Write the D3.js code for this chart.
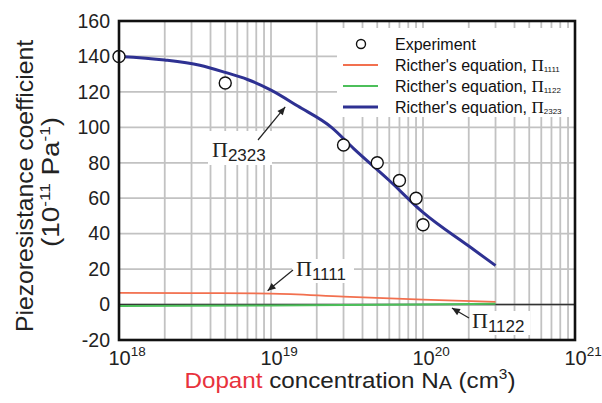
<!DOCTYPE html>
<html>
<head>
<meta charset="utf-8">
<script src="https://cdn.jsdelivr.net/npm/d3@7"></script>
<style>
body{margin:0;background:#fff;}
svg{display:block;font-family:Arial,"Liberation Sans",sans-serif;}
</style>
</head>
<body>
<svg id="chart" width="602" height="403"></svg>
<script>
// ---- data ----
const expN   = [1e18, 5e18, 3e19, 5e19, 7e19, 9e19, 1e20];
const expPi  = [140, 125, 90, 80, 70, 60, 45];

const pi2323N = [1e18, 2e18, 3.4e18, 5e18, 7e18, 1e19, 1.5e19, 2.5e19, 3.5e19, 6e19, 1e20, 2e20, 3e20];
const pi2323V = [140, 138, 135, 131, 127, 121, 112, 100, 88, 70, 52, 33, 22];

const pi1111N = [1e18, 3e18, 1e19, 3e19, 1e20, 3e20];
const pi1111V = [6.6, 6.5, 6.2, 4.5, 2.8, 1.5];

const pi1122N = [1e18, 1e19, 1e20, 3e20];
const pi1122V = [-0.8, -0.5, 0.1, 0.5];

const yTicks = [-20, 0, 20, 40, 60, 80, 100, 120, 140, 160];
const xDecades = [18, 19, 20, 21];
const legendLabels = ["Experiment", "Ricther's equation, ", "Ricther's equation, ", "Ricther's equation, "];
const legendSubs = ["", "1111", "1122", "2323"];

// ---- layout ----
const svg = d3.select("#chart");
const L = 119, R = 575, T = 21, B = 340;
const x = d3.scaleLog().domain([1e18, 1e21]).range([L, R]);
const y = d3.scaleLinear().domain([-20, 160]).range([B, T]);

const grid = svg.append("g");
const vLines = [];
for (let n = 18; n <= 20; n++) for (let k = 1; k <= 9; k++) vLines.push(k * Math.pow(10, n));
grid.selectAll("line.v").data(vLines.filter(v => v > 1e18)).join("line")
  .attr("x1", d => x(d)).attr("x2", d => x(d)).attr("y1", T).attr("y2", B)
  .attr("stroke", "#c2c2c2").attr("stroke-width", 1.8);
grid.selectAll("line.h").data(yTicks.filter(v => v > -20 && v < 160)).join("line")
  .attr("x1", L).attr("x2", R).attr("y1", d => y(d)).attr("y2", d => y(d))
  .attr("stroke", "#c2c2c2").attr("stroke-width", 1.8);

// white boxes (legend, labels)
svg.append("rect").attr("x", 337).attr("y", 28).attr("width", R - 337 - 1).attr("height", 89).attr("fill", "#fff");
svg.append("rect").attr("x", 208).attr("y", 131).attr("width", 64).attr("height", 34).attr("fill", "#fff");
svg.append("rect").attr("x", 292).attr("y", 259).attr("width", 62).attr("height", 24).attr("fill", "#fff");
svg.append("rect").attr("x", 470).attr("y", 311).attr("width", 60).attr("height", 24).attr("fill", "#fff");

// zero line
svg.append("line").attr("x1", L).attr("x2", R).attr("y1", y(0)).attr("y2", y(0))
  .attr("stroke", "#333").attr("stroke-width", 1.6);

// curves
const line = d3.line().x(d => x(d[0])).y(d => y(d[1])).curve(d3.curveMonotoneX);
svg.append("path").attr("d", line(d3.zip(pi1111N, pi1111V)))
  .attr("fill", "none").attr("stroke", "#f2704f").attr("stroke-width", 1.8);
svg.append("path").attr("d", line(d3.zip(pi1122N, pi1122V)))
  .attr("fill", "none").attr("stroke", "#4cbf5a").attr("stroke-width", 2);
svg.append("path").attr("d", line(d3.zip(pi2323N, pi2323V)))
  .attr("fill", "none").attr("stroke", "#2e3192").attr("stroke-width", 3);

// experiment points
svg.selectAll("circle.exp").data(d3.zip(expN, expPi)).join("circle")
  .attr("cx", d => x(d[0])).attr("cy", d => y(d[1])).attr("r", 6)
  .attr("fill", "#fff").attr("stroke", "#111").attr("stroke-width", 1.4);

// frame
svg.append("rect").attr("x", L).attr("y", T).attr("width", R - L).attr("height", B - T)
  .attr("fill", "none").attr("stroke", "#111").attr("stroke-width", 2.6);

// y axis labels
const yAxis = d3.axisLeft(y).tickValues(yTicks).tickSize(0).tickPadding(9).tickFormat(d => String(d));
const gy = svg.append("g").attr("transform", `translate(${L},0)`).call(yAxis);
gy.select(".domain").remove();
gy.selectAll("text").attr("font-size", 19.5).attr("fill", "#222")
  .attr("font-family", "Arial, 'Liberation Sans', sans-serif");

// x axis labels
const xAxis = d3.axisBottom(x).tickValues(xDecades.map(e => Math.pow(10, e))).tickSize(0).tickFormat(() => "");
const gx = svg.append("g").attr("transform", `translate(0,${B})`).call(xAxis);
gx.select(".domain").remove();
gx.selectAll(".tick").each(function(d) {
  const t = d3.select(this).append("text").attr("x", -11).attr("y", 25).attr("text-anchor", "start")
    .attr("fill", "#222").attr("font-size", 20);
  t.append("tspan").text("10");
  t.append("tspan").attr("dy", -9).attr("font-size", 13.5).text(Math.round(Math.log10(d)));
});

// axis titles
svg.append("text").attr("transform", "translate(33,186) rotate(-90)")
  .attr("text-anchor", "middle").attr("font-size", 24).attr("fill", "#222")
  .attr("textLength", 292).attr("lengthAdjust", "spacingAndGlyphs")
  .text("Piezoresistance coefficient");
const yt2 = svg.append("text").attr("transform", "translate(59,182) rotate(-90)")
  .attr("text-anchor", "middle").attr("font-size", 23).attr("fill", "#222")
  .attr("textLength", 130).attr("lengthAdjust", "spacingAndGlyphs");
yt2.append("tspan").text("(10");
yt2.append("tspan").attr("dy", -9).attr("font-size", 14).text("-11");
yt2.append("tspan").attr("dy", 9).text(" Pa");
yt2.append("tspan").attr("dy", -9).attr("font-size", 14).text("-1");
yt2.append("tspan").attr("dy", 9).text(")");

const xt = svg.append("text").attr("x", 350).attr("y", 388).attr("text-anchor", "middle")
  .attr("font-size", 22).attr("fill", "#222")
  .attr("textLength", 331).attr("lengthAdjust", "spacingAndGlyphs");
xt.append("tspan").attr("fill", "#e8323c").text("Dopant");
xt.append("tspan").text(" concentration N");
xt.append("tspan").attr("font-size", 18).attr("dy", 1).text("A");
xt.append("tspan").attr("dy", -1).text(" (cm");
xt.append("tspan").attr("dy", -9).attr("font-size", 14).text("3");
xt.append("tspan").attr("dy", 9).text(")");

// legend
const legendMarks = [
  {type: "circle"},
  {type: "line", color: "#f2704f", w: 1.8},
  {type: "line", color: "#4cbf5a", w: 2},
  {type: "line", color: "#2e3192", w: 3}
];
const lg = svg.append("g");
legendMarks.forEach((d, i) => {
  const cy = 44 + i * 21;
  if (d.type === "circle") {
    lg.append("circle").attr("cx", 361).attr("cy", cy).attr("r", 4.5).attr("fill", "#fff")
      .attr("stroke", "#111").attr("stroke-width", 1.4);
  } else {
    lg.append("line").attr("x1", 343).attr("x2", 378).attr("y1", cy).attr("y2", cy)
      .attr("stroke", d.color).attr("stroke-width", d.w);
  }
  const t = lg.append("text").attr("x", 395).attr("y", cy + 5.5).attr("font-size", 16)
    .attr("fill", "#111");
  t.append("tspan").text(legendLabels[i]);
  if (legendSubs[i]) {
    t.append("tspan").attr("font-family", "'Liberation Serif', 'DejaVu Serif', serif").attr("font-size", 17).text("Π");
    t.append("tspan").attr("font-size", 8).attr("dy", 1).text(legendSubs[i]);
  }
});

// annotations
function arrow(x1, y1, x2, y2) {
  svg.append("line").attr("x1", x1).attr("y1", y1).attr("x2", x2).attr("y2", y2)
    .attr("stroke", "#222").attr("stroke-width", 1.2);
  const a = Math.atan2(y2 - y1, x2 - x1), s = 8, w = 3.5;
  const bx = x2 - s * Math.cos(a), by = y2 - s * Math.sin(a);
  const px = -Math.sin(a) * w, py = Math.cos(a) * w;
  svg.append("path").attr("d", `M${x2},${y2}L${bx + px},${by + py}L${bx - px},${by - py}Z`).attr("fill", "#222");
}
function piLabel(xp, yp, sub) {
  const t = svg.append("text").attr("x", xp).attr("y", yp).attr("fill", "#222");
  t.append("tspan").attr("font-family", "'Liberation Serif', 'DejaVu Serif', serif").attr("font-size", 22).text("Π");
  t.append("tspan").attr("font-size", 17).attr("dy", 4).text(sub);
}
arrow(258, 140, x(1.24e19), y(111.5));
piLabel(212, 157, "2323");
arrow(293, 270, x(9.5e18), y(7.8));
piLabel(296, 276, "1111");
arrow(469, 318, x(1.55e20), y(-2));
piLabel(472, 328, "1122");
</script>
</body>
</html>
